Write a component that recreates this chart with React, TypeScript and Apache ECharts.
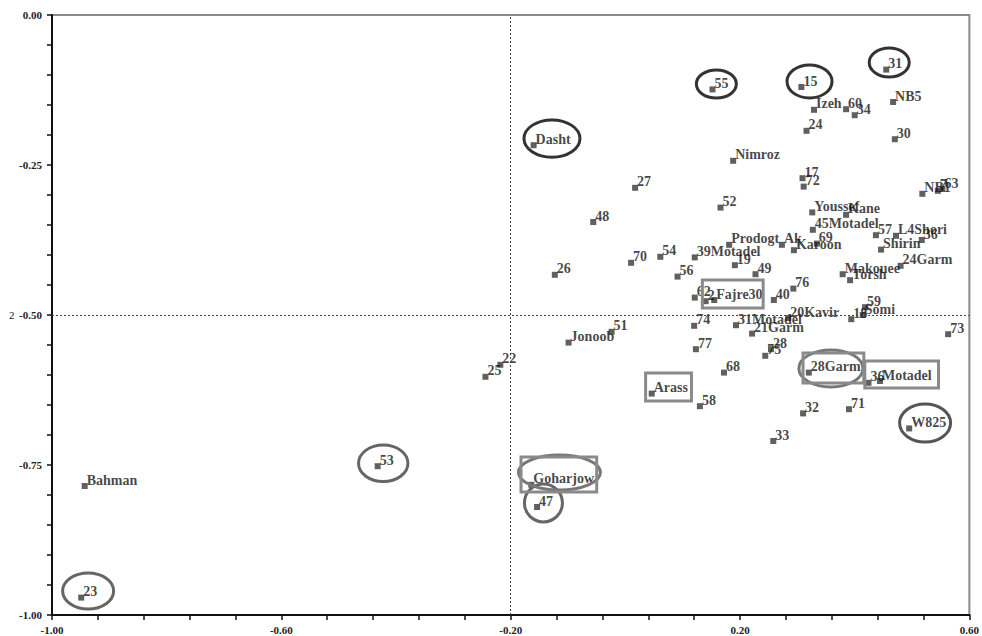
import React, { useEffect, useRef } from "react";
import * as echarts from "echarts";

// ---- data ----
const pointNames = [
  "Bahman", "23", "53", "25", "22", "Goharjow", "47", "Dasht", "26", "Jonoob",
  "48", "51", "70", "27", "Arass", "54", "56", "74", "62", "39Motadel",
  "77", "58", "2", "55", "Fajre30", "52", "68", "Prodogt", "Nimroz", "19",
  "31Motadel", "21Garm", "49", "75", "28", "33", "40", "Ak", "20Kavir", "76",
  "Karoon", "15", "17", "32", "72", "24", "28Garm", "Youssef", "45Motadel", "Izeh",
  "69", "Makouee", "Kane", "60", "71", "Torsh", "18", "34", "Somi", "59",
  "36", "57", "Motadel", "Shirin", "31", "NB5", "30", "L4Shori", "24Garm", "W825",
  "36", "NB1", "7", "63", "73",
];
const pointX = [
  -0.943, -0.949, -0.432, -0.244, -0.218, -0.164, -0.154, -0.160, -0.123, -0.099,
  -0.056, -0.024, 0.010, 0.017, 0.046, 0.061, 0.091, 0.120, 0.121, 0.121,
  0.123, 0.130, 0.140, 0.152, 0.155, 0.166, 0.172, 0.181, 0.188, 0.191,
  0.193, 0.221, 0.227, 0.244, 0.254, 0.258, 0.259, 0.273, 0.284, 0.293,
  0.294, 0.307, 0.309, 0.310, 0.311, 0.316, 0.320, 0.326, 0.327, 0.329,
  0.334, 0.379, 0.385, 0.385, 0.390, 0.392, 0.394, 0.400, 0.414, 0.418,
  0.424, 0.437, 0.444, 0.446, 0.455, 0.467, 0.470, 0.472, 0.480, 0.495,
  0.517, 0.518, 0.545, 0.553, 0.563,
];
const pointY = [
  -0.785, -0.971, -0.752, -0.603, -0.583, -0.783, -0.820, -0.217, -0.433, -0.546,
  -0.345, -0.528, -0.413, -0.288, -0.631, -0.403, -0.436, -0.518, -0.471, -0.404,
  -0.557, -0.652, -0.477, -0.124, -0.475, -0.321, -0.596, -0.383, -0.243, -0.417,
  -0.517, -0.531, -0.432, -0.568, -0.557, -0.710, -0.475, -0.383, -0.505, -0.456,
  -0.392, -0.120, -0.272, -0.664, -0.286, -0.193, -0.596, -0.329, -0.358, -0.158,
  -0.381, -0.432, -0.333, -0.157, -0.657, -0.442, -0.507, -0.167, -0.500, -0.487,
  -0.613, -0.367, -0.610, -0.391, -0.091, -0.145, -0.207, -0.368, -0.418, -0.689,
  -0.375, -0.298, -0.293, -0.290, -0.532,
];

// reference lines
const refLineX = -0.2;
const refLineY = -0.5;

// ellipse annotations: centre in data units
const ellipseCx = [-0.128, 0.1587, 0.3212, 0.4602, -0.4223, -0.1429, -0.115, 0.3585, 0.5228, -0.937];
const ellipseCy = [-0.206, -0.115, -0.1108, -0.0792, -0.7472, -0.8133, -0.7625, -0.589, -0.68, -0.96];
// rectangle annotations: corners in data units
const rectX1 = [-0.182, 0.0353, 0.1343, 0.3099, 0.4176];
const rectX2 = [-0.050, 0.1153, 0.2403, 0.4159, 0.5462];
const rectY1 = [-0.7367, -0.5967, -0.4417, -0.5633, -0.5767];
const rectY2 = [-0.795, -0.6433, -0.4883, -0.6133, -0.6217];

// ---- styles ----
const ellipseRx = [28, 20, 22.5, 20, 24.7, 19, 41, 32, 25.5, 25.5];
const ellipseRy = [18.7, 14, 16.5, 14.5, 18.3, 19, 17.5, 18.5, 19, 18];
const ellipseColor = ["#333", "#333", "#333", "#333", "#666", "#666", "#777", "#777", "#555", "#666"];

const SERIF = '"Liberation Serif", "Times New Roman", serif';

export default function App() {
  const ref = useRef<HTMLDivElement>(null);

  useEffect(() => {
    document.body.style.margin = "0";
    if (!ref.current) return;
    const chart = echarts.init(ref.current, null, { renderer: "svg" });

    const data = pointNames.map((n, i) => ({ name: n, value: [pointX[i], pointY[i]] }));

    chart.setOption({
      animation: false,
      backgroundColor: "#fff",
      grid: {
        left: 52,
        top: 15,
        right: 9,
        bottom: 21,
        show: true,
        borderColor: "#8a8a8a",
        borderWidth: 2,
        backgroundColor: "transparent",
      },
      xAxis: {
        type: "value",
        min: -1,
        max: 0.6,
        interval: 0.4,
        axisLine: { onZero: false, lineStyle: { color: "#111", width: 2 } },
        axisTick: { show: true, length: 5, lineStyle: { color: "#111", width: 1.5 } },
        minorTick: { show: true, splitNumber: 5, length: 5, lineStyle: { color: "#111", width: 1.5 } },
        splitLine: { show: false },
        axisLabel: {
          margin: 9,
          color: "#222",
          fontFamily: SERIF,
          fontWeight: "bold",
          fontSize: 11,
          formatter: (v: number) => v.toFixed(2),
        },
      },
      yAxis: {
        type: "value",
        min: -1,
        max: 0,
        interval: 0.25,
        axisLine: { onZero: false, lineStyle: { color: "#111", width: 2 } },
        axisTick: { show: true, length: 5, lineStyle: { color: "#111", width: 1.5 } },
        minorTick: { show: true, splitNumber: 5, length: 5, lineStyle: { color: "#111", width: 1.5 } },
        splitLine: { show: false },
        axisLabel: {
          margin: 10,
          color: "#222",
          fontFamily: SERIF,
          fontWeight: "bold",
          fontSize: 11,
          formatter: (v: number) => v.toFixed(2),
        },
      },
      series: [
        {
          type: "scatter",
          symbol: "rect",
          symbolSize: 6,
          itemStyle: { color: "#383838" },
          data,
          label: {
            show: true,
            formatter: "{b}",
            position: [5, -10],
            align: "left",
            verticalAlign: "top",
            fontFamily: SERIF,
            fontWeight: "bold",
            fontSize: 14,
            lineHeight: 14,
            color: "#151515",
          },
          markLine: {
            silent: true,
            symbol: "none",
            label: { show: false },
            lineStyle: { color: "#444", type: [2, 2], width: 1 },
            data: [{ xAxis: refLineX }, { yAxis: refLineY }],
          },
        },
      ],
    });

    const toPx = (x: number, y: number) =>
      chart.convertToPixel({ gridIndex: 0 }, [x, y]) as number[];

    const graphics: any[] = [];
    ellipseCx.forEach((cx, i) => {
      const p = toPx(cx, ellipseCy[i]);
      graphics.push({
        type: "ellipse",
        shape: { cx: p[0], cy: p[1], rx: ellipseRx[i], ry: ellipseRy[i] },
        style: { fill: "none", stroke: ellipseColor[i], lineWidth: 3 },
        z: 10,
      });
    });
    rectX1.forEach((x1, i) => {
      const a = toPx(x1, rectY1[i]);
      const b = toPx(rectX2[i], rectY2[i]);
      graphics.push({
        type: "rect",
        shape: { x: a[0], y: a[1], width: b[0] - a[0], height: b[1] - a[1] },
        style: { fill: "none", stroke: "#8a8a8a", lineWidth: 3 },
        z: 10,
      });
    });
    graphics.push({
      type: "text",
      left: 9,
      top: 309,
      style: { text: "2", fontFamily: SERIF, fontSize: 11, fill: "#222" },
    });

    chart.setOption({ graphic: graphics });

    return () => chart.dispose();
  }, []);

  return <div ref={ref} style={{ width: 982, height: 636 }} />;
}
